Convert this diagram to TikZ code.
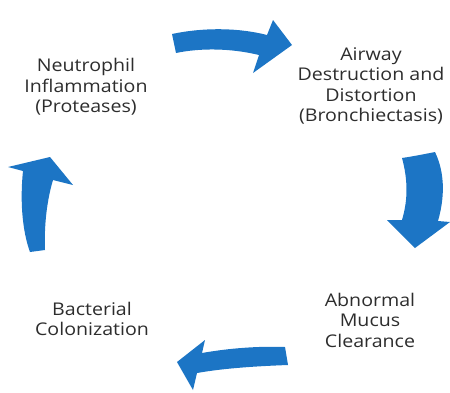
\documentclass[tikz,border=0pt]{standalone}
\usepackage{fontspec}
\setmainfont{Open Sans}[FakeStretch=1.12]
\definecolor{arrowblue}{RGB}{28,117,197}
\definecolor{txt}{RGB}{45,45,45}
\tikzset{
  cyclearrow/.style={fill=arrowblue, draw=none},
  label/.style={align=center, text=txt, font=\fontsize{17.5}{20.5}\selectfont, inner sep=0pt}
}
\begin{document}
\begin{tikzpicture}[x=1pt,y=-1pt]
\useasboundingbox (0,0) rectangle (450,392);
% texts
\node[label] (neut) at (86,87) {Neutrophil\\Inflammation\\(Proteases)};
\node[label] (air) at (371,86) {Airway\\Destruction and\\Distortion\\(Bronchiectasis)};
\node[label] (muc) at (370,320) {Abnormal\\Mucus\\Clearance};
\node[label] (bac) at (92,319) {Bacterial\\Colonization};
% top arrow
\fill[cyclearrow] (172,34) .. controls (205,27) and (240,28) .. (267,35) -- (273,20) -- (292,45) -- (253,73) -- (259,55) .. controls (230,48) and (200,48) .. (176,53) -- cycle;
% right arrow
\fill[cyclearrow] (402,158) .. controls (415,156) and (425,154) .. (435,152) .. controls (446,175) and (444,200) .. (438,221) -- (450,222) -- (415,248) -- (387,220) -- (402,220) .. controls (408,200) and (408,180) .. (402,158) -- cycle;
% bottom arrow
\fill[cyclearrow] (285,347) .. controls (260,346) and (230,348) .. (202,353) -- (205,340) -- (177,362) -- (193,390) -- (197,373) .. controls (225,368) and (260,366) .. (288,365) -- cycle;
% left arrow
\fill[cyclearrow] (30,252) .. controls (22,230) and (20,200) .. (23,171) -- (8,167) -- (50,157) -- (73,185) -- (53,180) .. controls (47,200) and (44,225) .. (45,250) -- cycle;
\end{tikzpicture}
\end{document}
